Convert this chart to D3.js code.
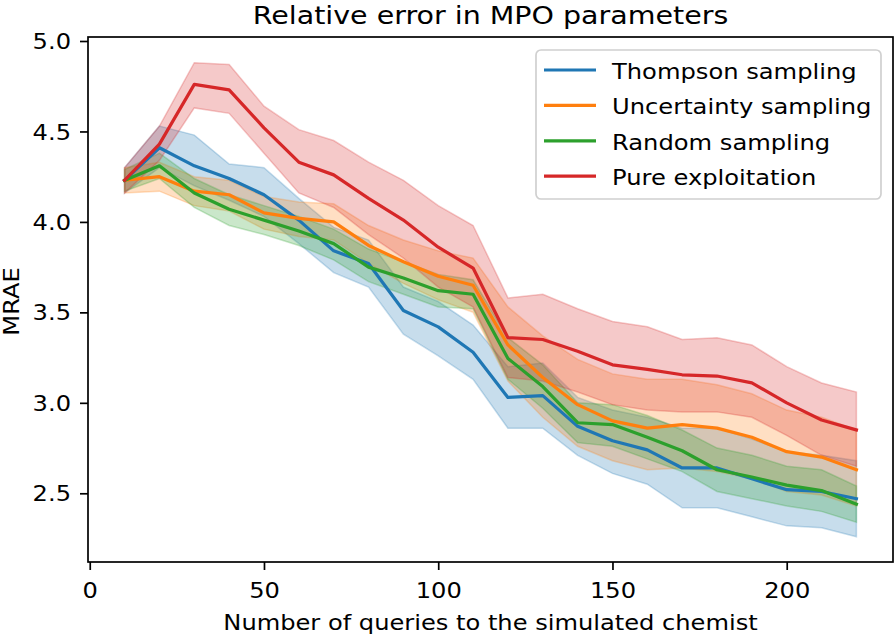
<!DOCTYPE html>
<html>
<head>
<meta charset="utf-8">
<script src="https://cdn.jsdelivr.net/npm/d3@7"></script>
<style>
  html, body { margin: 0; padding: 0; background: #fff; }
  svg { display: block; }
  text { font-family: "DejaVu Sans", sans-serif; fill: #000; }
</style>
</head>
<body>
<svg id="chart" width="896" height="639"></svg>
<script>
// ---------- data ----------
const queries = [10,20,30,40,50,60,70,80,90,100,110,120,130,140,150,160,170,180,190,200,210,220];

const thompsonMean = [4.23,4.41,4.31,4.24,4.15,4.01,3.84,3.77,3.51,3.42,3.28,3.03,3.04,2.87,2.79,2.74,2.64,2.64,2.58,2.52,2.51,2.47];
const thompsonLow  = [4.16,4.30,4.20,4.12,4.03,3.88,3.72,3.64,3.38,3.26,3.13,2.86,2.86,2.71,2.61,2.55,2.42,2.42,2.37,2.32,2.31,2.26];
const thompsonHigh = [4.30,4.53,4.48,4.32,4.30,4.13,3.97,3.90,3.64,3.56,3.43,3.20,3.22,3.03,2.96,2.92,2.86,2.86,2.80,2.73,2.71,2.68];

const uncertaintyMean = [4.23,4.25,4.17,4.15,4.05,4.02,4.00,3.87,3.78,3.70,3.65,3.32,3.14,2.99,2.90,2.86,2.88,2.86,2.81,2.73,2.70,2.63];
const uncertaintyLow  = [4.16,4.17,4.09,4.06,3.96,3.92,3.90,3.77,3.66,3.57,3.50,3.12,2.92,2.76,2.68,2.63,2.64,2.62,2.58,2.51,2.49,2.43];
const uncertaintyHigh = [4.30,4.33,4.25,4.23,4.14,4.11,4.10,3.98,3.90,3.84,3.80,3.53,3.37,3.24,3.16,3.13,3.13,3.10,3.05,2.96,2.92,2.85];

const randomMean = [4.23,4.31,4.16,4.07,4.01,3.95,3.88,3.75,3.69,3.62,3.60,3.245,3.09,2.89,2.88,2.81,2.735,2.63,2.59,2.545,2.515,2.44];
const randomLow  = [4.17,4.24,4.08,3.98,3.93,3.87,3.79,3.67,3.60,3.53,3.52,3.13,2.97,2.78,2.76,2.69,2.62,2.51,2.47,2.43,2.40,2.34];
const randomHigh = [4.29,4.38,4.24,4.15,4.09,4.03,3.96,3.85,3.78,3.71,3.68,3.36,3.21,3.00,2.99,2.93,2.85,2.75,2.71,2.65,2.63,2.54];

const exploitMean = [4.23,4.43,4.76,4.73,4.52,4.33,4.26,4.13,4.01,3.86,3.745,3.36,3.35,3.285,3.21,3.185,3.155,3.148,3.11,3.00,2.905,2.85];
const exploitLow  = [4.16,4.34,4.63,4.60,4.38,4.16,4.08,3.93,3.80,3.64,3.53,3.14,3.12,3.06,2.99,2.96,2.95,2.95,2.92,2.82,2.71,2.65];
const exploitHigh = [4.30,4.53,4.88,4.87,4.64,4.51,4.45,4.33,4.23,4.09,3.98,3.58,3.60,3.52,3.45,3.42,3.35,3.36,3.32,3.20,3.11,3.06];

const seriesNames = ["Thompson sampling","Uncertainty sampling","Random sampling","Pure exploitation"];
const seriesColors = ["#1f77b4","#ff7f0e","#2ca02c","#d62728"];
const xTicks = [0,50,100,150,200];
const yTicks = [2.5,3.0,3.5,4.0,4.5,5.0];

const titleText = "Relative error in MPO parameters";
const xLabelText = "Number of queries to the simulated chemist";
const yLabelText = "MRAE";

// ---------- build ----------
const series = [
  {mean: thompsonMean, lo: thompsonLow, hi: thompsonHigh},
  {mean: uncertaintyMean, lo: uncertaintyLow, hi: uncertaintyHigh},
  {mean: randomMean, lo: randomLow, hi: randomHigh},
  {mean: exploitMean, lo: exploitLow, hi: exploitHigh}
].map((s, i) => ({
  name: seriesNames[i], color: seriesColors[i],
  pts: queries.map((q, j) => ({x: q, m: s.mean[j], lo: s.lo[j], hi: s.hi[j]}))
}));

const svg = d3.select("#chart");
const L = 88, R = 893, T = 37, B = 562;
const x = d3.scaleLinear().domain([-0.5, 230.5]).range([L, R]);
const y = d3.scaleLinear().domain([2.1202, 5.0221]).range([B, T]);

const FS = 21;      // glyph height
const SX = 1.15;    // horizontal stretch of glyphs

// bands
const area = d3.area().x(d => x(d.x)).y0(d => y(d.lo)).y1(d => y(d.hi));
svg.append("g").selectAll("path").data(series).join("path")
  .attr("d", d => area(d.pts))
  .attr("fill", d => d.color).attr("fill-opacity", 0.25)
  .attr("stroke", d => d.color).attr("stroke-opacity", 0.25).attr("stroke-width", 1.5);

// lines
const line = d3.line().x(d => x(d.x)).y(d => y(d.m));
svg.append("g").selectAll("path").data(series).join("path")
  .attr("d", d => line(d.pts))
  .attr("fill", "none").attr("stroke", d => d.color)
  .attr("stroke-width", 3.2).attr("stroke-linejoin", "round").attr("stroke-linecap", "square");

// axes
const xAxis = svg.append("g").attr("transform", `translate(0,${B})`)
  .call(d3.axisBottom(x).tickValues(xTicks).tickFormat(d3.format("d")).tickSize(8));
const yAxis = svg.append("g").attr("transform", `translate(${L},0)`)
  .call(d3.axisLeft(y).tickValues(yTicks).tickFormat(d3.format(".1f")).tickSize(8).tickPadding(9));
[xAxis, yAxis].forEach(a => {
  a.select(".domain").remove();
  a.selectAll(".tick line").attr("stroke", "#000").attr("stroke-width", 1.7);
  a.selectAll(".tick text").attr("font-family", "DejaVu Sans").attr("font-size", FS).attr("fill", "#000");
});
xAxis.selectAll(".tick text").attr("y", 36.5).attr("dy", 0)
  .attr("transform", `scale(${SX},1)`);
yAxis.selectAll(".tick text").attr("dy", "0.36em")
  .attr("x", function() { return +d3.select(this).attr("x") / SX; })
  .attr("transform", `scale(${SX},1)`);

// frame
svg.append("rect").attr("x", L).attr("y", T).attr("width", R - L).attr("height", B - T)
  .attr("fill", "none").attr("stroke", "#000").attr("stroke-width", 1.7);

// title and labels
svg.append("text").attr("transform", `translate(${(L + R) / 2},23.5) scale(1.14,1)`)
  .attr("text-anchor", "middle").attr("font-size", 25).text(titleText);
svg.append("text").attr("transform", `translate(${(L + R) / 2},630) scale(${SX},1)`)
  .attr("text-anchor", "middle").attr("font-size", FS).text(xLabelText);
svg.append("text").attr("transform", `translate(18.5,${(T + B) / 2 + 2}) rotate(-90) scale(${SX},1)`)
  .attr("text-anchor", "middle").attr("font-size", FS).text(yLabelText);

// legend
const lg = svg.append("g");
lg.append("rect").attr("x", 536).attr("y", 50).attr("width", 345).attr("height", 149)
  .attr("rx", 5).attr("fill", "#fff").attr("fill-opacity", 0.8)
  .attr("stroke", "#d0d0d0").attr("stroke-width", 1.7);
const items = lg.selectAll("g.item").data(series).join("g").attr("class", "item")
  .attr("transform", (d, i) => `translate(0,${70 + i * 35.4})`);
items.append("line").attr("x1", 544).attr("x2", 596).attr("y1", 0).attr("y2", 0)
  .attr("stroke", d => d.color).attr("stroke-width", 3.2);
items.append("text").attr("transform", `translate(612,8.8) scale(1.152,1)`)
  .attr("font-size", FS).text(d => d.name);
</script>
</body>
</html>
